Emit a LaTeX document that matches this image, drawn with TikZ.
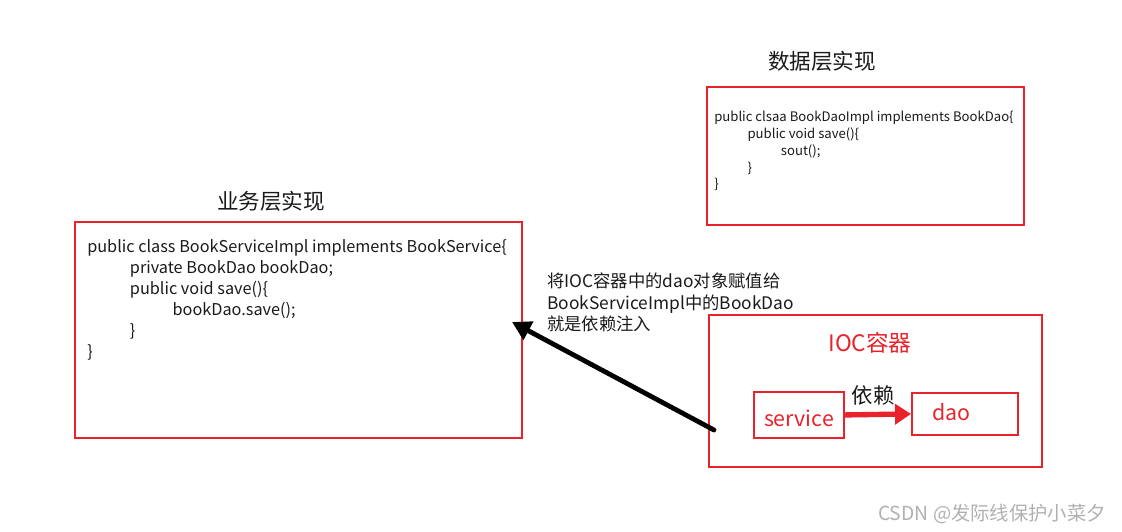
\documentclass[tikz,border=0pt]{standalone}
\usepackage{fontspec}
\setmainfont{Noto Sans CJK SC}
\usetikzlibrary{arrows.meta,positioning}
\definecolor{cFrame}{HTML}{E8232B}
\definecolor{cInk}{HTML}{1A1A1A}
\definecolor{cMark}{HTML}{B0B0B0}
\tikzset{
  frame/.style={draw=cFrame, line width=1.4pt, inner sep=0pt, anchor=north west},
  code/.style={align=left, anchor=north west, inner sep=0pt, text=cInk},
  title/.style={font=\fontsize{16.2}{18}\selectfont, text=cInk},
  redlbl/.style={font=\fontsize{16}{18}\selectfont, text=cFrame},
  dep/.style={-{Triangle[length=12pt, width=15pt]}, line width=4pt, draw=cFrame},
  inject/.style={-{Triangle[length=14pt, width=15pt]}, line width=3.6pt, draw=black, line cap=round},
}
\newcommand{\ind}{\hspace*{32pt}}
\newcommand{\indd}{\hspace*{25pt}}

\begin{document}
\begin{tikzpicture}[x=0.75pt, y=-0.75pt]
  \useasboundingbox (0,0) rectangle (1122,532);
  % service layer
  \node[frame, minimum width=335pt, minimum height=162pt] (svc) at (74,221) {};
  \node[title] (svcttl) at (271,201) {业务层实现};
  \node[code, font=\fontsize{12.2}{15.75}\selectfont] (svccode) at (87,239)
    {public class BookServiceImpl implements BookService\{\\
     \ind private BookDao bookDao;\\
     \ind public void save()\{\\
     \ind\ind bookDao.save();\\
     \ind \}\\
     \}};
  % dao layer
  \node[frame, minimum width=237.75pt, minimum height=103.5pt] (daoimpl) at (706,86) {};
  \node[title] (daottl) at (822,61) {数据层实现};
  \node[code, font=\fontsize{9.85}{12.6}\selectfont] (daocode) at (714,111)
    {public clsaa BookDaoImpl implements BookDao\{\\
     \indd public void save()\{\\
     \indd\indd sout();\\
     \indd \}\\
     \}};
  % container
  \node[frame, minimum width=249.75pt, minimum height=114pt] (ioc) at (708,314) {};
  \node[redlbl, font=\fontsize{17}{19}\selectfont] (iocttl) at (870,343) {IOC容器};
  \node[frame, minimum width=67.5pt, minimum height=34.5pt] (service) at (753,391) {};
  \node[redlbl] at ([yshift=-2.5pt]service.center) {service};
  \node[frame, minimum width=79.5pt, minimum height=31.5pt] (dao) at (911,392) {};
  \node[redlbl] at ([xshift=-10pt, yshift=1pt]dao.center) {dao};
  \draw[dep] (service.east) -- (dao.west);
  \node[title, font=\fontsize{16}{18}\selectfont] (deplbl) at (873,395) {依赖};
  % injection
  \coordinate (src) at (714,430);
  \coordinate (tgt) at (512,322);
  \draw[inject] (src) -- (tgt);
  \node[code, font=\fontsize{13}{16}\selectfont] (note) at (547,273)
    {将IOC容器中的dao对象赋值给\\BookServiceImpl中的BookDao\\就是依赖注入};
  \node[text=cMark, font=\fontsize{14.5}{16}\selectfont] (mark) at (992,514) {CSDN @发际线保护小菜夕};
\end{tikzpicture}
\end{document}
